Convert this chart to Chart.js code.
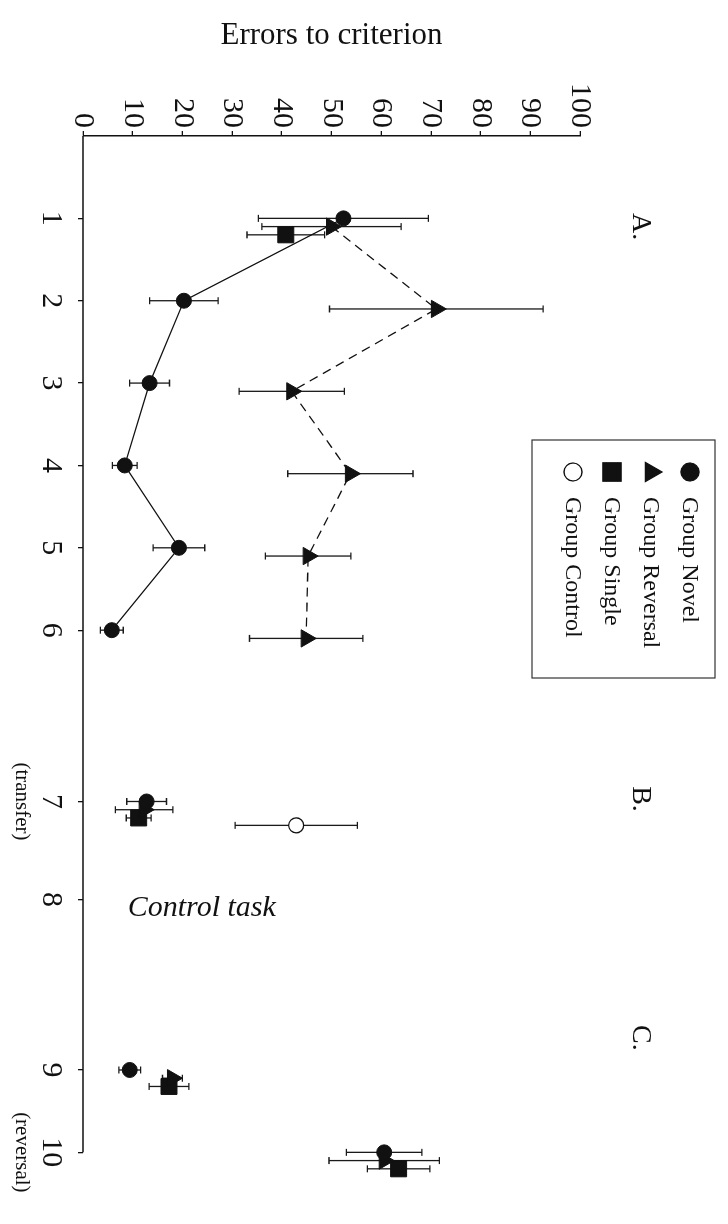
<!DOCTYPE html>
<html>
<head>
<meta charset="utf-8">
<title>Errors to criterion</title>
<script src="https://cdn.jsdelivr.net/npm/chart.js@4.4.1/dist/chart.umd.min.js"></script>
<style>
  html, body { margin: 0; padding: 0; background: #fff; }
  body { width: 728px; height: 1224px; overflow: hidden; position: relative; }
  /* figure is laid out landscape, then turned a quarter turn clockwise */
  #sheet {
    position: absolute; left: 0; top: 0;
    width: 1224px; height: 728px;
    transform-origin: 0 0;
    transform: translate(728px, 0) rotate(90deg);
  }
</style>
</head>
<body>
<div id="sheet"><canvas id="errorsChart" width="1224" height="728"></canvas></div>
<script>
'use strict';

// Sessions on the horizontal axis (7 = transfer, 8 = control task, 10 = reversal)
const sessionLabels = ['1', '2', '3', '4', '5', '6', '7', '8', '9', '10'];
const sessionAxisPos = [1, 2, 3, 4, 5, 6, 8.08, 9.27, 11.34, 12.34];
const sessionNotes = ['', '', '', '', '', '', '(transfer)', '', '', '(reversal)'];
const errorTicks = [0, 10, 20, 30, 40, 50, 60, 70, 80, 90, 100];

// Mean errors to criterion and SEM per session (null = not tested)
const novelMean    = [52.4, 20.3, 13.4, 8.4, 19.3, 5.8, 12.8, null, 9.4, 60.6];
const novelSem     = [17.1, 6.9, 4.0, 2.5, 5.2, 2.3, 4.0, null, 2.2, 7.6];
const reversalMean = [50.0, 71.1, 42.0, 53.8, 45.3, 44.9, 12.3, null, 18.0, 60.6];
const reversalSem  = [14.0, 21.5, 10.6, 12.6, 8.6, 11.4, 5.8, null, 2.0, 11.1];
const singleMean   = [40.8, null, null, null, null, null, 11.2, null, 17.3, 63.5];
const singleSem    = [7.8, null, null, null, null, null, 2.5, null, 4.0, 6.3];
const controlMean  = [null, null, null, null, null, null, 42.9, null, null, null];
const controlSem   = [null, null, null, null, null, null, 12.3, null, null, null];

const INK = '#111';
const SERIF = "'Liberation Serif', 'Times New Roman', serif";
Chart.defaults.font.family = SERIF;
Chart.defaults.color = INK;

// build {x, y, err} points, nudging each group sideways a little
function points(means, sems, dodge) {
    const out = [];
    means.forEach((m, i) => {
        if (m === null) return;
        out.push({ x: sessionAxisPos[i] + dodge, y: m, err: sems[i] });
    });
    return out;
}

// only sessions 1-6 are joined by a line
const firstBlock = ctx => ctx.p1DataIndex <= 5 ? INK : 'rgba(0,0,0,0)';

function drawMarker(ctx, style, r, x, y, fill) {
    ctx.beginPath();
    if (style === 'circle') {
        ctx.arc(x, y, r, 0, Math.PI * 2);
    } else if (style === 'triangle') {
        ctx.moveTo(x, y - r);
        ctx.lineTo(x + r * 0.866, y + r * 0.5);
        ctx.lineTo(x - r * 0.866, y + r * 0.5);
        ctx.closePath();
    } else {
        const h = r * Math.SQRT1_2;
        ctx.rect(x - h, y - h, 2 * h, 2 * h);
    }
    ctx.fillStyle = fill;
    ctx.fill();
    ctx.strokeStyle = INK;
    ctx.lineWidth = 1.3;
    ctx.stroke();
}

const errorBars = {
    id: 'errorBars',
    beforeDatasetsDraw(chart) {
        const { ctx, scales: { x, y }, chartArea } = chart;
        ctx.save();
        // session axis line stops at the last session tick
        ctx.strokeStyle = INK;
        ctx.lineWidth = 1.5;
        ctx.beginPath();
        ctx.moveTo(chartArea.left, chartArea.bottom);
        ctx.lineTo(x.getPixelForValue(sessionAxisPos[sessionAxisPos.length - 1]), chartArea.bottom);
        ctx.stroke();

        ctx.strokeStyle = '#1a1a1a';
        ctx.lineWidth = 1.3;
        chart.data.datasets.forEach(ds => {
            ds.data.forEach(p => {
                const px = x.getPixelForValue(p.x);
                const lo = y.getPixelForValue(p.y - p.err);
                const hi = y.getPixelForValue(p.y + p.err);
                ctx.beginPath();
                ctx.moveTo(px, lo); ctx.lineTo(px, hi);
                ctx.moveTo(px - 3.5, lo); ctx.lineTo(px + 3.5, lo);
                ctx.moveTo(px - 3.5, hi); ctx.lineTo(px + 3.5, hi);
                ctx.stroke();
            });
        });
        ctx.restore();
    }
};

const annotations = {
    id: 'annotations',
    afterDraw(chart) {
        const { ctx, scales: { x, y }, chartArea } = chart;
        ctx.save();
        ctx.fillStyle = INK;
        ctx.textBaseline = 'middle';

        // panel letters
        ctx.font = `28px ${SERIF}`;
        ctx.textAlign = 'center';
        [['A.', 1.1], ['B.', 8.05], ['C.', 10.95]].forEach(([t, at]) => {
            ctx.fillText(t, x.getPixelForValue(at), chartArea.top - 60);
        });

        // second line under some session numbers
        ctx.font = `21px ${SERIF}`;
        sessionNotes.forEach((note, i) => {
            if (note) ctx.fillText(note, x.getPixelForValue(sessionAxisPos[i]), x.top + 61);
        });

        // control task label, written along the value axis
        ctx.font = `italic 30px ${SERIF}`;
        ctx.textAlign = 'left';
        ctx.translate(x.getPixelForValue(9.37), y.getPixelForValue(9));
        ctx.rotate(-Math.PI / 2);
        ctx.fillText('Control task', 0, 0);
        ctx.setTransform(1, 0, 0, 1, 0, 0);

        // legend box
        const box = { left: 440, right: 678, top: 13, bottom: 196 };
        ctx.strokeStyle = '#333';
        ctx.lineWidth = 1.2;
        ctx.strokeRect(box.left, box.top, box.right - box.left, box.bottom - box.top);
        const sizes = { circle: 9, triangle: 11, rect: 13 };
        ctx.font = `24px ${SERIF}`;
        chart.data.datasets.forEach((ds, i) => {
            const rowY = 38 + i * 39;
            drawMarker(ctx, ds.pointStyle, sizes[ds.pointStyle], 472, rowY, ds.pointBackgroundColor);
            ctx.fillStyle = INK;
            ctx.textAlign = 'left';
            ctx.fillText(ds.label, 497, rowY + 1);
        });
        ctx.restore();
    }
};

const axisFont = { family: SERIF, size: 30 };

new Chart(document.getElementById('errorsChart'), {
    type: 'scatter',
    data: {
        datasets: [{
            label: 'Group Novel',
            data: points(novelMean, novelSem, 0),
            clip: false,
            showLine: true,
            borderColor: INK,
            borderWidth: 1.3,
            segment: { borderColor: firstBlock },
            pointStyle: 'circle',
            pointRadius: 7.5,
            pointBackgroundColor: INK,
            pointBorderColor: INK,
            pointBorderWidth: 1
        }, {
            label: 'Group Reversal',
            data: points(reversalMean, reversalSem, 0.1),
            clip: false,
            showLine: true,
            borderColor: INK,
            borderWidth: 1.3,
            borderDash: [9, 6],
            segment: { borderColor: firstBlock },
            pointStyle: 'triangle',
            pointRadius: 10,
            pointBackgroundColor: INK,
            pointBorderColor: INK,
            pointBorderWidth: 1
        }, {
            label: 'Group Single',
            data: points(singleMean, singleSem, 0.2),
            clip: false,
            pointStyle: 'rect',
            pointRadius: 11.3,
            pointBackgroundColor: INK,
            pointBorderColor: INK,
            pointBorderWidth: 1
        }, {
            label: 'Group Control',
            data: points(controlMean, controlSem, 0.29),
            clip: false,
            pointStyle: 'circle',
            pointRadius: 7.5,
            pointBackgroundColor: '#fff',
            pointBorderColor: INK,
            pointBorderWidth: 1.3
        }]
    },
    options: {
        responsive: false,
        animation: false,
        events: [],
        layout: { padding: { left: 5, top: 148, right: 42, bottom: 0 } },
        plugins: { legend: { display: false }, tooltip: { enabled: false } },
        scales: {
            x: {
                type: 'linear',
                min: 0,
                max: 12.7,
                afterBuildTicks: axis => { axis.ticks = sessionAxisPos.map(v => ({ value: v })); },
                afterFit: scale => { scale.height = 83; },
                ticks: {
                    autoSkip: false, maxRotation: 0, minRotation: 0, padding: 9,
                    color: INK, font: axisFont,
                    callback: (v, i) => sessionLabels[i]
                },
                grid: { drawOnChartArea: false, tickLength: 5, color: INK, lineWidth: 1.3 },
                border: { display: false }
            },
            y: {
                min: 0,
                max: 100,
                afterBuildTicks: axis => { axis.ticks = errorTicks.map(v => ({ value: v })); },
                afterFit: scale => { scale.width = 131; },
                ticks: { padding: 3, color: INK, font: axisFont },
                title: {
                    display: true, text: 'Errors to criterion', color: INK,
                    font: { family: SERIF, size: 31 }, padding: { top: 12, bottom: 0 }
                },
                grid: { drawOnChartArea: false, tickLength: 5, color: INK, lineWidth: 1.3 },
                border: { color: INK, width: 1.5 }
            }
        }
    },
    plugins: [errorBars, annotations]
});
</script>
</body>
</html>
